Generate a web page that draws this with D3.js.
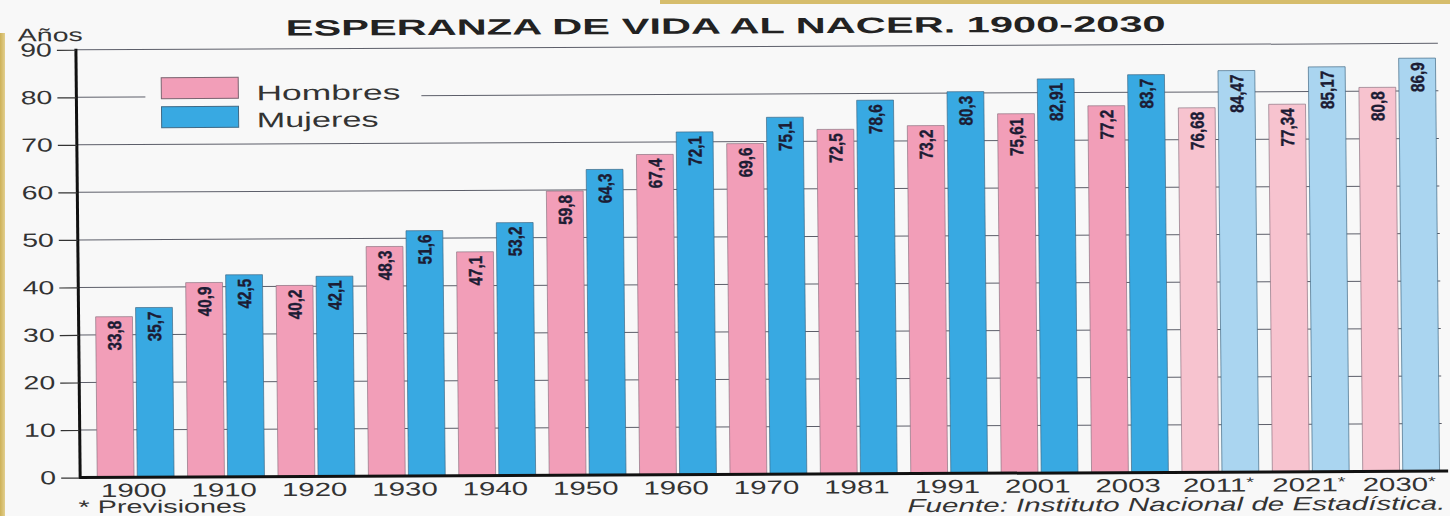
<!DOCTYPE html>
<html>
<head>
<meta charset="utf-8">
<script src="https://cdn.jsdelivr.net/npm/d3@7"></script>
<style>
  html, body { margin: 0; padding: 0; background: #f8f8f8; }
  svg { display: block; }
  text { font-family: "Liberation Sans", Arial, Helvetica, sans-serif; }
</style>
</head>
<body>
<svg id="chart" width="1450" height="516"></svg>
<script>
// ---- data ----
const years = ["1900","1910","1920","1930","1940","1950","1960","1970","1981","1991","2001","2003","2011","2021","2030"];
const projectedYears = ["2011","2021","2030"];
const hombres = [33.8, 40.9, 40.2, 48.3, 47.1, 59.8, 67.4, 69.6, 72.5, 73.2, 75.61, 77.2, 76.68, 77.34, 80.8];
const mujeres = [35.7, 42.5, 42.1, 51.6, 53.2, 64.3, 72.1, 75.1, 78.6, 80.3, 82.91, 83.7, 84.47, 85.17, 86.9];
const seriesNames = ["Hombres", "Mujeres"];
const yTicks = [0, 10, 20, 30, 40, 50, 60, 70, 80, 90];

const title = "ESPERANZA DE VIDA AL NACER. 1900-2030";
const yUnit = "Años";
const noteText = "* Previsiones";
const sourceText = "Fuente: Instituto Nacional de Estadística.";

// ---- styles ----
const colors = {
  Hombres: "#f29eb8", Mujeres: "#38a9e2",
  HombresProj: "#f7c3cf", MujeresProj: "#aad5f0"
};

const svg = d3.select("#chart");
svg.append("rect").attr("width", 1450).attr("height", 516).attr("fill", "#f8f8f8");

// scan borders
const grad = svg.append("defs").append("linearGradient").attr("id", "tan").attr("x1", 0).attr("x2", 1);
grad.append("stop").attr("offset", 0).attr("stop-color", "#cdb158");
grad.append("stop").attr("offset", 1).attr("stop-color", "#e2cf8e");
svg.append("rect").attr("x", 0).attr("y", 33).attr("width", 5).attr("height", 483).attr("fill", "url(#tan)");
svg.append("rect").attr("x", 660).attr("y", 0).attr("width", 790).attr("height", 4).attr("fill", "#d6bd6c");

// slightly rotated "scan" group
const g = svg.append("g")
  .attr("transform", "translate(725,258) rotate(-0.27) skewX(0.3) translate(-725,-258)");

const x = d3.scaleBand().domain(years).range([88.3, 1444.2]).paddingInner(0.15).paddingOuter(0.075);
const xs = d3.scaleBand().domain(seriesNames).range([0, x.bandwidth()]).paddingInner(0.08);
const y = d3.scaleLinear().domain([0, 90]).range([474.5, 46.7]);

const axisX = 78;

// grid lines
g.append("g").selectAll("line").data(yTicks.filter(d => d > 0)).join("line")
  .attr("x1", axisX).attr("x2", 1440)
  .attr("y1", d => y(d)).attr("y2", d => y(d))
  .attr("stroke", "#5d5f6a").attr("stroke-width", 1);

// legend (box hides grid line)
const leg = g.append("g");
leg.append("rect").attr("x", 147).attr("y", 66).attr("width", 276).attr("height", 66).attr("fill", "#f8f8f8");
leg.append("rect").attr("x", 163).attr("y", 75).attr("width", 77).attr("height", 21)
  .attr("fill", colors.Hombres).attr("stroke", "#7a6470").attr("stroke-width", 1);
leg.append("rect").attr("x", 163).attr("y", 104).attr("width", 77).attr("height", 21)
  .attr("fill", colors.Mujeres).attr("stroke", "#3f6a86").attr("stroke-width", 1);
leg.append("text").attr("x", 258).attr("y", 98).attr("font-size", 21).attr("fill", "#333")
  .attr("textLength", 144).attr("lengthAdjust", "spacingAndGlyphs").text(seriesNames[0]);
leg.append("text").attr("x", 258).attr("y", 125).attr("font-size", 21).attr("fill", "#333")
  .attr("textLength", 122).attr("lengthAdjust", "spacingAndGlyphs").text(seriesNames[1]);

// bars
const rows = years.map((yr, i) => ({ yr, proj: projectedYears.includes(yr), values: [
  { s: "Hombres", v: hombres[i] }, { s: "Mujeres", v: mujeres[i] } ] }));

const grp = g.append("g").selectAll("g").data(rows).join("g")
  .attr("transform", d => `translate(${x(d.yr)},0)`);

grp.selectAll("rect").data(d => d.values.map(e => ({ ...e, proj: d.proj }))).join("rect")
  .attr("x", d => xs(d.s)).attr("width", xs.bandwidth())
  .attr("y", d => y(d.v)).attr("height", d => y(0) - y(d.v))
  .attr("fill", d => colors[d.s + (d.proj ? "Proj" : "")])
  .attr("stroke", d => d.s === "Hombres" ? "#8a7080" : "#3e6683")
  .attr("stroke-width", 0.9).attr("stroke-opacity", 0.75);

grp.selectAll("text").data(d => d.values).join("text")
  .attr("transform", d => `translate(${xs(d.s) + xs.bandwidth() / 2},${y(d.v) + 4}) rotate(-90) scale(0.85,1.05)`)
  .attr("text-anchor", "end").attr("dy", "0.36em")
  .attr("font-size", 18).attr("font-weight", "bold").attr("fill", "#1c1c34")
  .attr("stroke", "#1c1c34").attr("stroke-width", 0.35)
  .text(d => String(d.v).replace(".", ","));

// y axis
g.append("line").attr("x1", axisX).attr("x2", axisX).attr("y1", y(90) - 1).attr("y2", y(0) + 1)
  .attr("stroke", "#111").attr("stroke-width", 3);
const yAxis = d3.axisLeft(y).tickValues(yTicks).tickSize(19).tickPadding(5).tickFormat(d3.format("d"));
const ya = g.append("g").attr("transform", `translate(${axisX},0)`).call(yAxis);
ya.select(".domain").remove();
ya.selectAll(".tick line").attr("stroke", "#333").attr("stroke-width", 1.2);
ya.selectAll(".tick text").attr("font-size", 19).attr("fill", "#333")
  .attr("font-family", "Liberation Sans, Arial, sans-serif")
  .attr("transform", "scale(1.5,1)")
  .attr("x", -24 / 1.5);

// x baseline
g.append("line").attr("x1", axisX - 1).attr("x2", 1446).attr("y1", y(0)).attr("y2", y(0))
  .attr("stroke", "#111").attr("stroke-width", 3);

// x labels
const xl = g.append("g").selectAll("text").data(years).join("text")
  .attr("transform", d => `translate(${x(d) + x.bandwidth() / 2 - 2},494) scale(1.55,1)`)
  .attr("text-anchor", "middle").attr("font-size", 19).attr("fill", "#333");
xl.append("tspan").text(d => d);
xl.filter(d => projectedYears.includes(d)).append("tspan")
  .attr("font-size", 13).attr("dy", -5).text("*");

// title & notes
g.append("text").attr("x", 288).attr("y", 33.5).attr("font-size", 22).attr("font-weight", "bold")
  .attr("fill", "#222").attr("textLength", 880).attr("lengthAdjust", "spacingAndGlyphs").text(title);
g.append("text").attr("x", 20).attr("y", 38).attr("font-size", 18).attr("fill", "#333")
  .attr("textLength", 65).attr("lengthAdjust", "spacingAndGlyphs").text(yUnit);
g.append("text").attr("x", 76).attr("y", 510).attr("font-size", 18).attr("fill", "#333")
  .attr("textLength", 168).attr("lengthAdjust", "spacingAndGlyphs").text(noteText);
g.append("text").attr("x", 905).attr("y", 513).attr("font-size", 19).attr("font-style", "italic").attr("fill", "#333")
  .attr("textLength", 538).attr("lengthAdjust", "spacingAndGlyphs").text(sourceText);
</script>
</body>
</html>
